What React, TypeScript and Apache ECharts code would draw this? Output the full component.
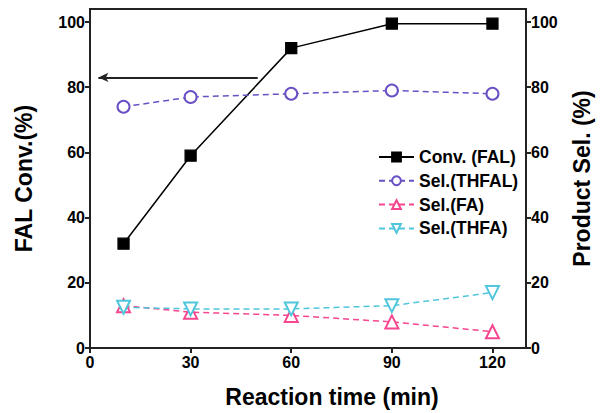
import React, { useEffect, useRef } from "react";
import * as echarts from "echarts";

const times = [10, 30, 60, 90, 120];
const convFAL = [32, 59, 92, 99.5, 99.5];
const selTHFAL = [74, 77, 78, 79, 78];
const selFA = [13, 11, 10, 8, 5];
const selTHFA = [12.5, 12, 12, 13, 17];
const xTicks = [0, 30, 60, 90, 120];
const yTicks = [0, 20, 40, 60, 80, 100];
const arrowFrom = [50, 83];
const arrowTo = [2.5, 83];

const FONT = "'Liberation Sans', Arial, sans-serif";
const AXIS_COLOR = "#222";

function pairs(ys: number[]) {
  return times.map((t, i) => [t, ys[i]]);
}

export default function App() {
  const ref = useRef<HTMLDivElement>(null);
  useEffect(() => {
    if (!ref.current) return;
    document.body.style.margin = "0";
    const chart = echarts.init(ref.current, null, { renderer: "svg" });
    const yAxisBase = (pos: "left" | "right", name: string, gap: number) => ({
      type: "value",
      position: pos,
      min: 0,
      max: 104,
      name,
      nameLocation: "middle",
      nameGap: gap,
      nameRotate: 90,
      nameTextStyle: { fontFamily: FONT, fontWeight: "bold", fontSize: 23, color: "#000" },
      splitLine: { show: false },
      axisLine: { show: true, lineStyle: { color: AXIS_COLOR, width: 2 } },
      axisTick: { show: true, length: 5, customValues: yTicks, lineStyle: { color: AXIS_COLOR, width: 2 } },
      axisLabel: { customValues: yTicks, fontFamily: FONT, fontWeight: "bold", fontSize: 16, color: "#000", margin: 5 },
    });
    const lineSeries = (name: string, data: number[], color: string, symbol: string, size: number, dashed: boolean, yIdx: number, rotate = 0) => ({
      name,
      type: "line",
      yAxisIndex: yIdx,
      data: pairs(data),
      symbol,
      symbolSize: size,
      symbolRotate: rotate,
      showAllSymbol: true,
      lineStyle: { color, width: 1.5, type: dashed ? [6, 4] : "solid" },
      itemStyle: { color, borderColor: color, borderWidth: 1.3 },
      emphasis: { disabled: true },
    });
    const conv: any = lineSeries("Conv. (FAL)", convFAL, "#000", "rect", 11, false, 0);
    conv.markLine = {
      silent: true,
      symbol: ["none", "arrow"],
      symbolSize: [7, 10],
      label: { show: false },
      lineStyle: { color: "#222", width: 2, type: "solid" },
      data: [[{ coord: arrowFrom }, { coord: arrowTo }]],
    };
    chart.setOption({
      animation: false,
      backgroundColor: "#fff",
      grid: { left: 90, right: 68, top: 9, bottom: 62, show: true, borderColor: AXIS_COLOR, borderWidth: 2 },
      xAxis: {
        type: "value",
        min: 0,
        max: 130,
        name: "Reaction time (min)",
        nameLocation: "middle",
        nameGap: 37,
        nameTextStyle: { fontFamily: FONT, fontWeight: "bold", fontSize: 23, color: "#000", padding: [0, 0, 0, 48] },
        splitLine: { show: false },
        axisLine: { lineStyle: { color: AXIS_COLOR, width: 2 } },
        axisTick: { show: true, length: 5, customValues: xTicks, lineStyle: { color: AXIS_COLOR, width: 2 } },
        axisLabel: { customValues: xTicks, fontFamily: FONT, fontWeight: "bold", fontSize: 16, color: "#000", margin: 6 },
      },
      yAxis: [yAxisBase("left", "FAL Conv.(%)", 55), yAxisBase("right", "Product Sel. (%)", 44)],
      legend: {
        orient: "vertical",
        left: 373,
        top: 143,
        itemWidth: 35,
        itemHeight: 11,
        itemGap: 5.8,
        textStyle: { fontFamily: FONT, fontWeight: "bold", fontSize: 17.5, color: "#000" },
        data: ["Conv. (FAL)", "Sel.(THFAL)", "Sel.(FA)", "Sel.(THFA)"],
      },
      series: [
        conv,
        lineSeries("Sel.(THFAL)", selTHFAL, "#6a50c4", "emptyCircle", 12, true, 1),
        lineSeries("Sel.(FA)", selFA, "#f5468f", "emptyTriangle", 13, true, 1),
        lineSeries("Sel.(THFA)", selTHFA, "#4fc6dc", "emptyTriangle", 13, true, 1, 180),
      ],
    });
    return () => chart.dispose();
  }, []);
  return <div ref={ref} style={{ width: 601, height: 413 }} />;
}
